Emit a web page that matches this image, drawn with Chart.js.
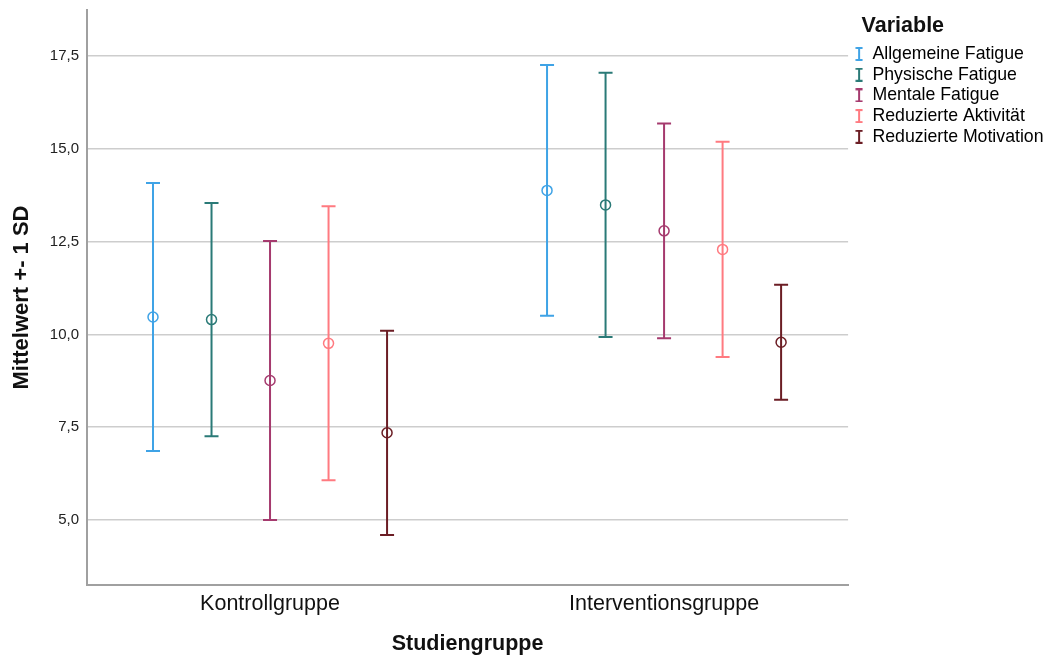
<!DOCTYPE html>
<html>
<head>
<meta charset="utf-8">
<script src="https://cdn.jsdelivr.net/npm/chart.js@4.4.1/dist/chart.umd.min.js"></script>
<style>
  html, body { margin: 0; padding: 0; background: #ffffff; }
  #wrap { width: 1050px; height: 659px; }
</style>
</head>
<body>
<div id="wrap"><canvas id="c" width="1050" height="659"></canvas></div>
<script>
// Groups on the x axis
const groups = ['Kontrollgruppe', 'Interventionsgruppe'];
// Fatigue sub-scales, one series each
const variables = ['Allgemeine Fatigue', 'Physische Fatigue', 'Mentale Fatigue', 'Reduzierte Aktivität', 'Reduzierte Motivation'];
// Means per group (Kontrollgruppe, Interventionsgruppe)
const meanAllgemein = [10.47, 13.88];
const meanPhysisch  = [10.40, 13.49];
const meanMental    = [8.76, 12.79];
const meanAktivitaet = [9.76, 12.29];
const meanMotivation = [7.35, 9.79];
// Standard deviations per group
const sdAllgemein = [3.61, 3.38];
const sdPhysisch  = [3.14, 3.56];
const sdMental    = [3.76, 2.89];
const sdAktivitaet = [3.69, 2.90];
const sdMotivation = [2.75, 1.55];
// Y axis tick values
const yTicks = [5.0, 7.5, 10.0, 12.5, 15.0, 17.5];

const colors = ['#3fa3e6', '#2a7a77', '#a53a6e', '#ff7a80', '#6b1d24'];
const means = [meanAllgemein, meanPhysisch, meanMental, meanAktivitaet, meanMotivation];
const sds = [sdAllgemein, sdPhysisch, sdMental, sdAktivitaet, sdMotivation];

// horizontal spacing of the series within a group (in group units)
const seriesStep = 0.1485;

const datasets = variables.map((name, j) => ({
  label: name,
  data: groups.map((g, i) => ({ x: i + (j - 2) * seriesStep, y: means[j][i], sd: sds[j][i] })),
  borderColor: colors[j],
  backgroundColor: 'rgba(0,0,0,0)',
  pointRadius: 5,
  pointBorderWidth: 1.5,
  pointHoverRadius: 5,
  showLine: false
}));

// I-beam legend symbol
function beamIcon(color) {
  const cv = document.createElement('canvas');
  cv.width = 8; cv.height = 14;
  const g = cv.getContext('2d');
  g.strokeStyle = color;
  g.lineWidth = 2;
  g.beginPath();
  g.moveTo(4, 1); g.lineTo(4, 13);
  g.moveTo(0.5, 1); g.lineTo(7.5, 1);
  g.moveTo(0.5, 13); g.lineTo(7.5, 13);
  g.stroke();
  return cv;
}
const icons = colors.map(beamIcon);

// Draws the ±1 SD whiskers with caps
const errorBars = {
  id: 'errorBars',
  beforeDatasetsDraw(chart) {
    const ctx = chart.ctx;
    const xs = chart.scales.x, ys = chart.scales.y;
    chart.data.datasets.forEach((ds) => {
      ctx.save();
      ctx.strokeStyle = ds.borderColor;
      ctx.lineWidth = 2;
      ds.data.forEach(p => {
        const px = xs.getPixelForValue(p.x);
        const top = ys.getPixelForValue(p.y + p.sd);
        const bot = ys.getPixelForValue(p.y - p.sd);
        const cap = 7;
        ctx.beginPath();
        ctx.moveTo(px, top); ctx.lineTo(px, bot);
        ctx.moveTo(px - cap, top); ctx.lineTo(px + cap, top);
        ctx.moveTo(px - cap, bot); ctx.lineTo(px + cap, bot);
        ctx.stroke();
      });
      ctx.restore();
    });
  }
};

// Moves the legend block a little away from the plot edge and indents its title
const legendOffset = {
  id: 'legendOffset',
  afterLayout(chart) {
    const lg = chart.legend;
    if (!lg) return;
    lg.left += 3.5;
    lg.right += 3.5;
    if (!lg._titleIndented) {
      ['drawTitle', '_drawTitle'].forEach(name => {
        const fn = lg[name];
        if (typeof fn === 'function') {
          lg[name] = function () {
            this.ctx.save();
            this.ctx.translate(10, 0);
            fn.apply(this, arguments);
            this.ctx.restore();
          };
        }
      });
      lg._titleIndented = true;
    }
  }
};

Chart.defaults.font.family = '"Liberation Sans", Arial, Helvetica, sans-serif';
Chart.defaults.color = '#111111';

new Chart(document.getElementById('c'), {
  type: 'scatter',
  data: { datasets },
  plugins: [errorBars, legendOffset],
  options: {
    responsive: false,
    animation: false,
    events: [],
    layout: { padding: { top: 10, left: 0, right: 0, bottom: 0 } },
    plugins: {
      tooltip: { enabled: false },
      legend: {
        position: 'right',
        align: 'start',
        title: {
          display: true,
          position: 'start',
          text: 'Variable',
          color: '#111111',
          font: { size: 21.5, weight: 'bold' },
          padding: { top: 5.25, bottom: 1.1 }
        },
        labels: {
          usePointStyle: true,
          pointStyleWidth: 9,
          color: '#111111',
          font: { size: 17.7 },
          padding: 3,
          generateLabels() {
            return variables.map((v, j) => ({
              text: v,
              pointStyle: icons[j],
              fillStyle: colors[j],
              strokeStyle: colors[j],
              lineWidth: 0,
              hidden: false,
              datasetIndex: j
            }));
          }
        }
      }
    },
    scales: {
      x: {
        type: 'linear',
        min: -0.4645,
        max: 1.467,
        afterBuildTicks(scale) { scale.ticks = groups.map((g, i) => ({ value: i })); },
        afterFit(scale) { scale.height = 74; },
        grid: { display: false, drawTicks: false },
        border: { display: true, color: '#a0a0a0', width: 2 },
        ticks: {
          padding: 6,
          color: '#111111',
          font: { size: 21.5 },
          callback: (v) => groups[Math.round(v)]
        },
        title: {
          display: true,
          text: 'Studiengruppe',
          color: '#111111',
          font: { size: 21.5, weight: 'bold' },
          padding: { top: 0, bottom: 1.6 }
        }
      },
      y: {
        min: 3.25,
        max: 18.74,
        afterBuildTicks(scale) { scale.ticks = yTicks.map(v => ({ value: v })); },
        afterFit(scale) { scale.width = 87; scale.paddingTop = 0; scale.paddingBottom = 0; },
        grid: { color: '#cdcdcd', lineWidth: 1.5, drawTicks: false },
        border: { display: true, color: '#a0a0a0', width: 2 },
        ticks: {
          padding: 8,
          color: '#222222',
          font: { size: 15 },
          callback: (v) => v.toFixed(1).replace('.', ',')
        },
        title: {
          display: true,
          text: 'Mittelwert +- 1 SD',
          color: '#111111',
          font: { size: 22, weight: 'bold' },
          padding: { top: 8.8, bottom: 0 }
        }
      }
    }
  }
});
</script>
</body>
</html>
